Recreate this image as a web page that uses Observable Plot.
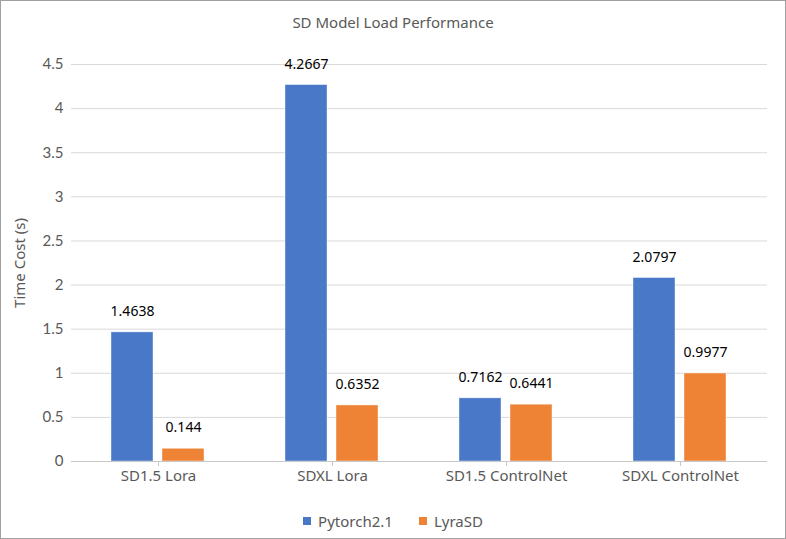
<!DOCTYPE html>
<html>
<head>
<meta charset="utf-8">
<script src="https://cdn.jsdelivr.net/npm/d3@7"></script>
<script src="https://cdn.jsdelivr.net/npm/@observablehq/plot@0.6"></script>
<style>
  body { margin: 0; background: #fff; }
  #wrap { width: 784px; height: 537px; border: 1px solid #a0a0a0; position: relative; overflow: hidden; background: #fff; }
  #title { position: absolute; top: 11px; left: 0; width: 100%; text-align: center; font: 15px "Comic Sans MS", "Noto Sans", sans-serif; color: #595959; }
  #chart { position: absolute; top: 39px; left: 0; }
  #ylabel { position: absolute; left: 18px; top: 262px; transform: translate(-50%, -50%) rotate(-90deg); white-space: nowrap; font: 15px "Comic Sans MS", "Noto Sans", sans-serif; color: #595959; }
  #legend { position: absolute; top: 510px; left: 0; width: 100%; display: flex; justify-content: center; gap: 26px; font: 15px "Comic Sans MS", "Noto Sans", sans-serif; color: #595959; }
  .item { display: flex; align-items: center; gap: 7px; }
  .sw { width: 8px; height: 8px; display: inline-block; }
</style>
</head>
<body>
<div id="wrap">
  <div id="title">SD Model Load Performance</div>
  <div id="chart"></div>
  <div id="ylabel"></div>
  <div id="legend"></div>
</div>
<script>
const categories = ["SD1.5 Lora", "SDXL Lora", "SD1.5 ControlNet", "SDXL ControlNet"];
const series = ["Pytorch2.1", "LyraSD"];
const pytorchValues = [1.4638, 4.2667, 0.7162, 2.0797];
const lyraValues = [0.144, 0.6352, 0.6441, 0.9977];
const yTicks = [0, 0.5, 1, 1.5, 2, 2.5, 3, 3.5, 4, 4.5];
const yLabel = "Time Cost (s)";
const colors = ["#4a78c8", "#ee8336"];

const data = categories.flatMap((c, i) => [
  {cat: c, s: series[0], v: pytorchValues[i]},
  {cat: c, s: series[1], v: lyraValues[i]}
]);

const chart = Plot.plot({
  width: 784,
  height: 460,
  marginTop: 24,
  marginBottom: 39,
  marginLeft: 69,
  marginRight: 18,
  style: {fontFamily: '"Comic Sans MS", "Noto Sans", sans-serif', fontSize: "14px", background: "transparent"},
  fx: {domain: categories, padding: 0, label: null},
  x: {domain: series, paddingInner: 0.173, paddingOuter: 0.764, axis: null},
  y: {domain: [0, 4.5], label: null},
  color: {domain: series, range: colors},
  marks: [
    Plot.gridY(yTicks, {stroke: "#d9d9d9", strokeOpacity: 1}),
    Plot.axisY(yTicks, {
      tickSize: 0, tickPadding: 8, tickFormat: d => String(d), label: null,
      fontSize: 15, fill: "#595959", fontFamily: "Lato, 'Open Sans', sans-serif"
    }),
    Plot.barY(data, {fx: "cat", x: "s", y: "v", fill: "s", stroke: "#ffffff", strokeOpacity: 0.5, strokeWidth: 0.8}),
    Plot.ruleY([0], {stroke: "#c8c8c8", strokeWidth: 1.2}),
    Plot.text(data, {fx: "cat", x: "s", y: "v", text: d => String(d.v), dy: -21, fill: "#000", fontSize: 14}),
    Plot.axisFx({anchor: "bottom", tickSize: 5, tickPadding: 4, stroke: "#c8c8c8", fill: "#595959", fontSize: 15, label: null})
  ]
});
document.getElementById("chart").appendChild(chart);
document.getElementById("ylabel").textContent = yLabel;

const legend = document.getElementById("legend");
series.forEach((s, i) => {
  const item = document.createElement("div");
  item.className = "item";
  const sw = document.createElement("span");
  sw.className = "sw";
  sw.style.background = colors[i];
  const t = document.createElement("span");
  t.textContent = s;
  item.appendChild(sw);
  item.appendChild(t);
  legend.appendChild(item);
});
</script>
</body>
</html>
